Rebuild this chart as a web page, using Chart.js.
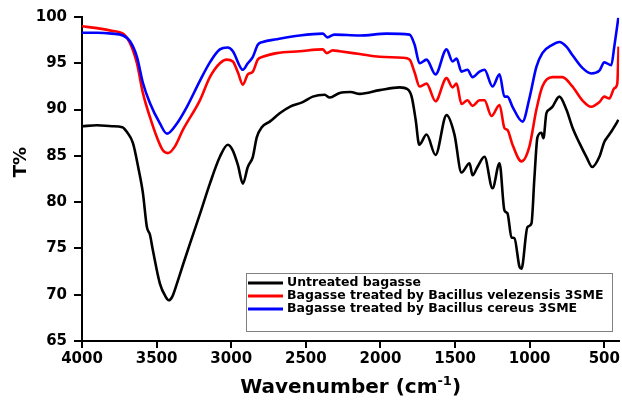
<!DOCTYPE html>
<html>
<head>
<meta charset="utf-8">
<script src="https://cdn.jsdelivr.net/npm/chart.js@4.4.0/dist/chart.umd.min.js"></script>
<style>
  html, body { margin: 0; padding: 0; background: #fff; }
  #wrap { width: 622px; height: 400px; }
</style>
</head>
<body>
<div id="wrap"><canvas id="ftirChart" width="622" height="400"></canvas></div>
<script>
// Tick values
const xTicks = [4000, 3500, 3000, 2500, 2000, 1500, 1000, 500];

// Series labels
const seriesLabels = [
    'Untreated bagasse',
    'Bagasse treated by Bacillus velezensis 3SME',
    'Bagasse treated by Bacillus cereus 3SME'
];

// Untreated bagasse (black)
const blackWn = [4000, 3900, 3800, 3730, 3700, 3659, 3620, 3592, 3565, 3545, 3525, 3478, 3440, 3418, 3395, 3364, 3320, 3277, 3210, 3143,
    3076, 3023, 2990, 2955, 2922, 2889, 2855, 2829, 2795, 2742, 2675, 2608, 2521, 2454, 2374, 2340, 2273, 2200, 2139, 2005,
    1871, 1818, 1791, 1764, 1740, 1691, 1631, 1557, 1504, 1457, 1403, 1383, 1350, 1303, 1249, 1202, 1169, 1149, 1122, 1102,
    1068, 1055, 1015, 988, 968, 948, 921, 908, 888, 868, 848, 801, 754, 714, 667, 620, 580, 533, 500, 480, 446, 419, 406];
const blackT = [88.2, 88.3, 88.2, 88.1, 87.6, 86.4, 83.5, 81.0, 77.3, 76.5, 74.8, 71.2, 69.8, 69.4, 69.8, 71.2, 73.4, 75.5, 78.7, 82.0,
    84.9, 86.2, 85.6, 84.0, 82.0, 83.8, 84.9, 87.0, 88.1, 88.7, 89.6, 90.3, 90.8, 91.4, 91.6, 91.3, 91.8, 91.9, 91.7, 92.1,
    92.4, 92.2, 91.4, 88.9, 86.2, 87.3, 85.1, 89.4, 87.3, 83.2, 84.2, 82.9, 83.8, 84.9, 81.5, 84.2, 79.1, 78.8, 76.2, 76.1,
    73.0, 72.8, 77.3, 77.7, 82.7, 87.0, 87.5, 86.9, 89.6, 90.0, 90.3, 91.4, 90.0, 88.1, 86.4, 84.9, 83.8, 84.9, 86.5, 87.0, 87.8, 88.5, 88.9];

// Bacillus velezensis 3SME (red)
const redWn = [4000, 3900, 3800, 3726, 3679, 3632, 3592, 3545, 3498, 3458, 3424, 3378, 3324, 3210, 3143, 3076, 3030, 2989, 2955, 2922,
    2889, 2855, 2822, 2789, 2695, 2541, 2387, 2360, 2320, 2273, 2139, 2005, 1852, 1805, 1771, 1738, 1691, 1631, 1557, 1517,
    1490, 1457, 1417, 1383, 1336, 1303, 1256, 1202, 1169, 1149, 1115, 1055, 1002, 955, 915, 848, 781, 714, 647, 587,
    533, 500, 466, 433, 413, 404];
const redT = [99.0, 98.8, 98.5, 98.2, 97.2, 95.0, 91.8, 89.2, 87.0, 85.6, 85.3, 86.0, 87.8, 91.0, 93.5, 95.0, 95.4, 95.2, 94.0, 92.7,
    93.8, 94.1, 95.4, 95.7, 96.1, 96.3, 96.5, 96.1, 96.4, 96.3, 96.0, 95.7, 95.6, 95.4, 94.0, 92.5, 92.8, 90.9, 93.4, 92.4,
    92.8, 90.6, 91.0, 90.4, 91.0, 91.0, 89.3, 90.5, 88.0, 87.8, 86.2, 84.4, 86.0, 90.0, 92.5, 93.5, 93.5, 92.5, 91.0, 90.3,
    90.8, 91.4, 91.2, 92.3, 92.8, 96.8];

// Bacillus cereus 3SME (blue)
const blueWn = [4000, 3900, 3800, 3726, 3679, 3632, 3592, 3545, 3478, 3431, 3364, 3297, 3210, 3143, 3076, 3023, 2989, 2922, 2889, 2855,
    2822, 2789, 2695, 2541, 2387, 2355, 2310, 2139, 1959, 1805, 1771, 1738, 1691, 1631, 1557, 1517, 1490, 1457, 1417, 1383,
    1336, 1303, 1249, 1202, 1169, 1149, 1115, 1048, 1002, 955, 915, 848, 801, 754, 714, 647, 587, 533, 500, 453, 433, 406];
const blueT = [98.3, 98.3, 98.2, 98.0, 97.4, 95.7, 92.9, 90.7, 88.5, 87.4, 88.5, 90.3, 93.1, 95.1, 96.5, 96.7, 96.3, 94.3, 95.0, 95.7,
    97.0, 97.3, 97.6, 98.0, 98.2, 97.8, 98.1, 98.0, 98.2, 98.1, 97.0, 95.0, 95.4, 93.8, 96.5, 95.2, 95.5, 94.1, 94.3, 93.5,
    94.1, 94.3, 92.5, 93.8, 91.4, 91.4, 90.3, 88.7, 91.2, 94.6, 96.1, 97.0, 97.3, 96.8, 95.9, 94.5, 93.9, 94.2, 95.1, 94.8, 96.8, 99.9];

const seriesColors = ['#000000', '#ff0000', '#0000ff'];

const toPoints = (wn, t) => wn.map((w, i) => ({ x: w, y: t[i] }));

const FONT = 'DejaVu Sans';

// Draws legend box and axis titles
const overlayPlugin = {
    id: 'overlay',
    afterDraw(chart) {
        const ctx = chart.ctx;
        ctx.save();

        // legend
        const bx = 246, by = 273, bw = 366, bh = 58;
        ctx.fillStyle = '#ffffff';
        ctx.fillRect(bx, by, bw, bh);
        ctx.strokeStyle = '#808080';
        ctx.lineWidth = 1;
        ctx.strokeRect(bx + 0.5, by + 0.5, bw, bh);
        ctx.font = `bold 12.5px "${FONT}"`;
        ctx.textBaseline = 'middle';
        ctx.textAlign = 'left';
        chart.data.datasets.forEach((ds, i) => {
            const yy = by + 10 + i * 13;
            ctx.strokeStyle = ds.borderColor;
            ctx.lineWidth = 3;
            ctx.beginPath();
            ctx.moveTo(bx + 2, yy);
            ctx.lineTo(bx + 37, yy);
            ctx.stroke();
            ctx.fillStyle = '#000';
            ctx.fillText(ds.label, bx + 41, yy);
        });

        // x title with superscript
        ctx.fillStyle = '#000';
        ctx.textBaseline = 'alphabetic';
        const mainFont = `bold 20px "${FONT}"`;
        const supFont = `bold 13px "${FONT}"`;
        ctx.font = mainFont;
        const w1 = ctx.measureText('Wavenumber (cm').width;
        const w3 = ctx.measureText(')').width;
        ctx.font = supFont;
        const w2 = ctx.measureText('-1').width;
        const cx = (chart.chartArea.left + chart.chartArea.right) / 2;
        let tx = cx - (w1 + w2 + w3) / 2;
        const base = 393;
        ctx.font = mainFont;
        ctx.fillText('Wavenumber (cm', tx, base);
        tx += w1;
        ctx.font = supFont;
        ctx.fillText('-1', tx, base - 8);
        tx += w2;
        ctx.font = mainFont;
        ctx.fillText(')', tx, base);

        // y title
        ctx.translate(21, 162);
        ctx.rotate(-Math.PI / 2);
        ctx.font = `bold 18px "${FONT}"`;
        ctx.textAlign = 'center';
        ctx.textBaseline = 'middle';
        ctx.fillText('T%', 0, 0);

        ctx.restore();
    }
};

const ctx = document.getElementById('ftirChart').getContext('2d');
const ftirChart = new Chart(ctx, {
    type: 'line',
    data: {
        datasets: [
            { label: seriesLabels[0], data: toPoints(blackWn, blackT), borderColor: seriesColors[0], order: 2 },
            { label: seriesLabels[1], data: toPoints(redWn, redT), borderColor: seriesColors[1], order: 1 },
            { label: seriesLabels[2], data: toPoints(blueWn, blueT), borderColor: seriesColors[2], order: 0 }
        ]
    },
    options: {
        responsive: false,
        animation: false,
        devicePixelRatio: 1,
        layout: { padding: { top: 17, right: 2, left: 0, bottom: 0 } },
        elements: {
            point: { radius: 0 },
            line: { borderWidth: 2.6, cubicInterpolationMode: 'monotone', fill: false }
        },
        plugins: {
            legend: { display: false },
            tooltip: { enabled: false }
        },
        scales: {
            x: {
                type: 'linear',
                reverse: true,
                min: 400,
                max: 4000,
                afterBuildTicks: scale => { scale.ticks = xTicks.map(v => ({ value: v })); },
                afterFit: scale => { scale.height = 59; },
                grid: { drawOnChartArea: false, drawTicks: true, tickLength: 7, color: '#000', lineWidth: 2 },
                border: { display: true, color: '#000', width: 2 },
                ticks: {
                    color: '#000', font: { family: FONT, weight: 'bold', size: 15 }, padding: 2, maxRotation: 0,
                    callback: v => String(v)
                }
            },
            y: {
                min: 65,
                max: 100,
                afterFit: scale => { scale.width = 82; },
                grid: { drawOnChartArea: false, drawTicks: true, tickLength: 8, color: '#000', lineWidth: 2 },
                border: { display: true, color: '#000', width: 2 },
                ticks: { stepSize: 5, color: '#000', font: { family: FONT, weight: 'bold', size: 15 }, padding: 7 }
            }
        }
    },
    plugins: [overlayPlugin]
});
</script>
</body>
</html>
